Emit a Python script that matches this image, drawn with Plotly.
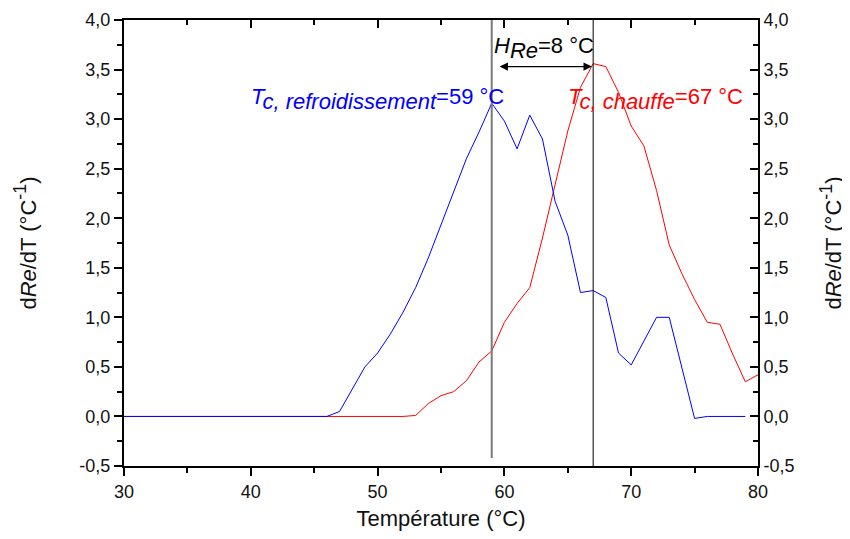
import plotly.graph_objects as go

# ---- data ----
temp_cool = list(range(30, 80))
dre_cool = [0]*17 + [0.05, 0.27, 0.50, 0.64, 0.83, 1.05, 1.30, 1.60, 1.93, 2.27, 2.60, 2.87,
                     3.16, 2.98, 2.70, 3.04, 2.80, 2.17, 1.83, 1.25, 1.27, 1.20, 0.64, 0.52,
                     0.76, 1.00, 1.00, 0.49, -0.02, 0, 0, 0, 0]
temp_heat = list(range(30, 81))
dre_heat = [0]*23 + [0.01, 0.13, 0.21, 0.25, 0.36, 0.55, 0.66, 0.95, 1.14, 1.30, 1.80, 2.35,
                     2.88, 3.32, 3.56, 3.53, 3.27, 2.93, 2.73, 2.28, 1.73, 1.44, 1.18, 0.95,
                     0.93, 0.63, 0.35, 0.42]
tc_cool = 59
tc_heat = 67
x_ticks = [30, 40, 50, 60, 70, 80]
y_ticks = [-0.5, 0, 0.5, 1.0, 1.5, 2.0, 2.5, 3.0, 3.5, 4.0]
y_ticktext = [f"{v:.1f}".replace(".", ",") for v in y_ticks]

FONT = "Liberation Sans, Arial, sans-serif"
TXT = "#111111"

fig = go.Figure()
fig.add_trace(go.Scatter(x=temp_heat, y=dre_heat, mode="lines",
                         line=dict(color="#ff0000", width=1), showlegend=False))
fig.add_trace(go.Scatter(x=temp_cool, y=dre_cool, mode="lines",
                         line=dict(color="#0000ff", width=1), showlegend=False))
# invisible trace to activate secondary axes
fig.add_trace(go.Scatter(x=[30], y=[0], xaxis="x2", yaxis="y2", mode="markers",
                         marker=dict(opacity=0), showlegend=False, hoverinfo="skip"))

# vertical lines
fig.add_shape(type="line", x0=tc_cool, x1=tc_cool, y0=-0.42, y1=4.0, xref="x", yref="y",
              line=dict(color="#7a7a7a", width=2))
fig.add_shape(type="line", x0=tc_heat, x1=tc_heat, y0=-0.5, y1=4.0, xref="x", yref="y",
              line=dict(color="#000000", width=1))

# arrow
fig.add_annotation(x=66.9, y=3.53, ax=59.5, ay=3.53, xref="x", yref="y", axref="x", ayref="y",
                   showarrow=True, arrowside="end+start", arrowhead=2, arrowsize=1.4,
                   arrowwidth=1.2, arrowcolor="black", text="")

SUB = '<sub><span style="font-size:22px">{}</span></sub>'
fig.add_annotation(x=60.1, y=3.2, xref="x", yref="y", xanchor="right", yanchor="middle",
                   showarrow=False,
                   text="<i>T" + SUB.format("c, refroidissement") + "</i>=59 °C",
                   font=dict(family=FONT, size=22, color="#0000ff"))
fig.add_annotation(x=79.0, y=3.2, xref="x", yref="y", xanchor="right", yanchor="middle",
                   showarrow=False,
                   text="<i>T" + SUB.format("c, chauffe") + "</i>=67 °C",
                   font=dict(family=FONT, size=22, color="#ff0000"))
fig.add_annotation(x=67.2, y=3.72, xref="x", yref="y", xanchor="right", yanchor="middle",
                   showarrow=False,
                   text="<i>H" + SUB.format("Re") + "</i>=8 °C",
                   font=dict(family=FONT, size=22, color="#000000"))

ytitle = 'd<i>Re</i>/dT (°C<sup><span style="font-size:18px">-1</span></sup>)'

axis_common = dict(showline=True, linecolor="black", linewidth=2, showgrid=False,
                   zeroline=False, tickcolor="black", tickwidth=2, ticklen=8,
                   tickfont=dict(family=FONT, size=18, color=TXT))

fig.update_layout(
    width=842, height=531,
    plot_bgcolor="white", paper_bgcolor="white",
    margin=dict(l=116, r=92, t=12, b=73, autoexpand=False),
    font=dict(family=FONT, color=TXT),
    xaxis=dict(range=[30, 80], tickvals=x_ticks, ticks="outside",
               minor=dict(dtick=5, ticks="outside", ticklen=5, tickwidth=1.5, tickcolor="black"),
               title=dict(text="Température (°C)", font=dict(family=FONT, size=22, color=TXT),
                          standoff=10),
               **axis_common),
    xaxis2=dict(range=[30, 80], overlaying="x", side="top", tickvals=x_ticks, ticks="inside",
                showticklabels=False,
                minor=dict(dtick=5, ticks="inside", ticklen=5, tickwidth=1.5, tickcolor="black"),
                **axis_common),
    yaxis=dict(range=[-0.5, 4.0], tickvals=y_ticks, ticktext=y_ticktext, ticks="outside",
               minor=dict(dtick=0.25, ticks="outside", ticklen=5, tickwidth=1.5, tickcolor="black"),
               title=dict(text=ytitle, font=dict(family=FONT, size=22, color=TXT), standoff=37),
               **axis_common),
    yaxis2=dict(range=[-0.5, 4.0], overlaying="y", side="right", tickvals=y_ticks,
                ticktext=y_ticktext, ticks="inside",
                minor=dict(dtick=0.25, ticks="inside", ticklen=5, tickwidth=1.5, tickcolor="black"),
                title=dict(text=ytitle, font=dict(family=FONT, size=22, color=TXT), standoff=32),
                **axis_common),
)

fig.write_html("out.html")
